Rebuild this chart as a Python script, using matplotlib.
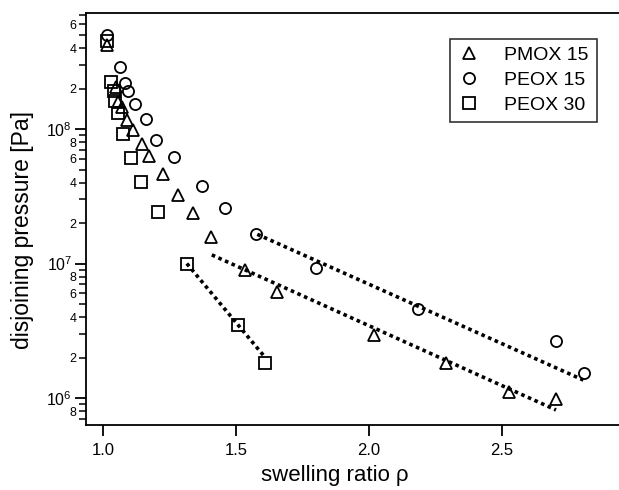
import numpy as np
import matplotlib.pyplot as plt
from matplotlib.ticker import FixedLocator, FixedFormatter

plt.rcParams['font.family'] = ['Liberation Sans', 'DejaVu Sans']
plt.rcParams['mathtext.default'] = 'regular'

# PMOX 15 (triangles)
pmox15_x = [1.016, 1.048, 1.058, 1.070, 1.091, 1.112, 1.145, 1.174, 1.227, 1.283,
            1.338, 1.406, 1.534, 1.653, 2.018, 2.289, 2.527, 2.703]
pmox15_y = [4.2e8, 2.06e8, 1.6e8, 1.47e8, 1.17e8, 9.8e7, 7.8e7, 6.3e7, 4.6e7, 3.25e7,
            2.36e7, 1.58e7, 8.96e6, 6.1e6, 2.94e6, 1.81e6, 1.11e6, 9.8e5]
# PEOX 15 (circles)
peox15_x = [1.016, 1.064, 1.083, 1.095, 1.121, 1.160, 1.200, 1.268, 1.373, 1.459,
            1.574, 1.801, 2.185, 2.703, 2.810]
peox15_y = [5.0e8, 2.9e8, 2.2e8, 1.92e8, 1.53e8, 1.19e8, 8.3e7, 6.2e7, 3.8e7, 2.6e7,
            1.67e7, 9.2e6, 4.6e6, 2.67e6, 1.54e6]
# PEOX 30 (squares)
peox30_x = [1.016, 1.030, 1.040, 1.044, 1.058, 1.076, 1.104, 1.144, 1.208, 1.315,
            1.506, 1.610]
peox30_y = [4.5e8, 2.25e8, 1.93e8, 1.62e8, 1.31e8, 9.2e7, 6.05e7, 4.05e7, 2.4e7, 1.0e7,
            3.5e6, 1.83e6]

# dotted fit lines (end points)
fit_pmox15_x = [1.409, 2.703]
fit_pmox15_y = [1.16e7, 8.15e5]
fit_peox15_x = [1.580, 2.806]
fit_peox15_y = [1.65e7, 1.36e6]
fit_peox30_x = [1.315, 1.610]
fit_peox30_y = [1.0e7, 2.0e6]

fig = plt.figure(figsize=(6.19, 4.90), dpi=100)
ax = fig.add_axes([86 / 619, 65 / 490, 533 / 619, 412 / 490])

mk = dict(color='black', mfc='none', mew=1.3, ms=8, ls='none')
ax.plot(pmox15_x, pmox15_y, marker='^', label='PMOX 15', **mk)
ax.plot(peox15_x, peox15_y, marker='o', label='PEOX 15', **mk)
ax.plot(peox30_x, peox30_y, marker='s', label='PEOX 30', **mk)

ln = dict(color='black', lw=2.6, ls=(0, (1, 1)))
ax.plot(fit_pmox15_x, fit_pmox15_y, **ln)
ax.plot(fit_peox15_x, fit_peox15_y, **ln)
ax.plot(fit_peox30_x, fit_peox30_y, **ln)

ax.set_yscale('log')
ax.set_xlim(0.936, 2.94)
ax.set_ylim(6.3e5, 7.3e8)

ax.spines['right'].set_visible(False)
for s in ['left', 'bottom', 'top']:
    ax.spines[s].set_linewidth(1.3)

ax.set_xticks([1.0, 1.5, 2.0, 2.5])
ax.set_xticklabels(['1.0', '1.5', '2.0', '2.5'])
ax.tick_params(axis='x', which='major', direction='out', length=8, width=1.3,
               labelsize=12, pad=5, top=False)
ax.tick_params(axis='x', which='minor', bottom=False, top=False)

ax.yaxis.set_major_locator(FixedLocator([1e6, 1e7, 1e8]))
ax.yaxis.set_major_formatter(FixedFormatter(['$10^{6}$', '$10^{7}$', '$10^{8}$']))
minor_locs = []
minor_labels = []
for dec in [1e5, 1e6, 1e7, 1e8]:
    for m in range(2, 10):
        v = m * dec
        if 6.3e5 <= v <= 7.3e8:
            minor_locs.append(v)
            minor_labels.append(str(m) if m % 2 == 0 else '')
ax.yaxis.set_minor_locator(FixedLocator(minor_locs))
ax.yaxis.set_minor_formatter(FixedFormatter(minor_labels))
ax.tick_params(axis='y', which='major', direction='out', length=8, width=1.3,
               labelsize=11.5, pad=2, right=False)
ax.tick_params(axis='y', which='minor', direction='out', length=5, width=1.1,
               labelsize=9, pad=2, right=False)

ax.set_xlabel('swelling ratio ρ', fontsize=16)
ax.xaxis.set_label_coords(0.467, -0.098)
ax.set_ylabel('disjoining pressure [Pa]', fontsize=16.5)
ax.yaxis.set_label_coords(-0.098, 0.473)

leg = ax.legend(loc='upper right', bbox_to_anchor=(0.958, 0.938), fontsize=14,
                frameon=True, fancybox=False, edgecolor='black', handlelength=1.2,
                handletextpad=1.2, labelspacing=0.38, borderpad=0.4,
                borderaxespad=0)
leg.get_frame().set_linewidth(1.2)

plt.savefig('out.png', dpi=100)
